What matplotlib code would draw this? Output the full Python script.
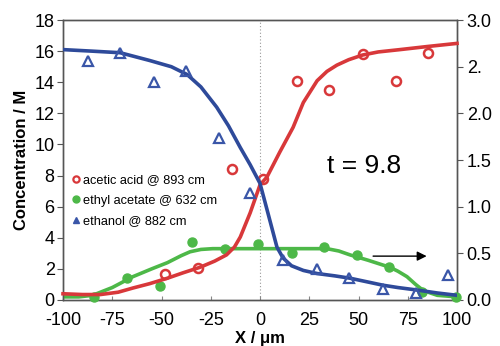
import matplotlib
matplotlib.use("Agg")
import matplotlib.pyplot as plt
from matplotlib.lines import Line2D

plt.rcParams['font.family'] = ['Liberation Sans', 'DejaVu Sans']

# ---- data (left axis units, M) ----
ethanol_x = [-87.5, -71, -54, -37.6, -21, -5, 11.7, 29, 45, 62.4, 79, 95.4]
ethanol_y = [15.4, 15.9, 14.0, 14.7, 10.4, 6.9, 2.6, 2.0, 1.4, 0.7, 0.45, 1.6]

acetic_x = [-48.2, -31.5, -14.2, 1.5, 19, 35, 52.3, 69, 85.3]
acetic_y = [1.7, 2.06, 8.4, 7.8, 14.1, 13.5, 15.8, 14.1, 15.9]

ethyl_x = [-84.3, -67.5, -50.8, -34.5, -17.8, -1, 16, 32.5, 49, 65.5, 82, 99.5]
ethyl_y = [0.2, 1.4, 0.9, 3.7, 3.3, 3.6, 3.0, 3.4, 2.9, 2.1, 0.5, 0.2]

# fitted curves
ethanol_fit_x = [-100, -85, -71, -56, -45, -37, -30, -22, -16, -10, -5, 0, 4, 8.6, 11.7, 16, 22, 29, 38, 45.7, 55, 62.4, 70, 79.7, 90, 100]
ethanol_fit_y = [16.1, 16.0, 15.9, 15.4, 15.0, 14.5, 13.7, 12.4, 11.2, 9.8, 8.7, 7.5, 5.6, 3.4, 2.7, 2.2, 1.9, 1.7, 1.55, 1.4, 1.15, 0.95, 0.8, 0.64, 0.45, 0.3]

acetic_fit_x = [-100, -90, -81, -72, -64.5, -56, -47, -39, -30.5, -23, -17, -13, -10, -5, 0, 3.5, 10, 16.8, 22, 29, 34, 39, 45, 52, 60, 71, 85, 100]
acetic_fit_y = [0.4, 0.35, 0.35, 0.5, 0.77, 1.05, 1.4, 1.75, 2.1, 2.5, 2.9, 3.4, 4.05, 5.6, 7.4, 7.9, 9.5, 11.1, 12.7, 14.1, 14.7, 15.1, 15.45, 15.75, 15.95, 16.1, 16.3, 16.5]

ethyl_fit_x = [-100, -92, -85, -75, -64.5, -55, -47, -40, -35.5, -30, -24, -15, -5, 10, 25, 34, 40, 45.7, 55, 66, 70, 74.6, 79, 83, 90, 100]
ethyl_fit_y = [0.2, 0.2, 0.3, 0.8, 1.5, 2.0, 2.4, 2.85, 3.1, 3.25, 3.3, 3.3, 3.3, 3.3, 3.3, 3.3, 3.15, 2.9, 2.55, 2.1, 1.85, 1.5, 1.0, 0.6, 0.3, 0.2]

x_ticks = [-100, -75, -50, -25, 0, 25, 50, 75, 100]
left_ticks = [0, 2, 4, 6, 8, 10, 12, 14, 16, 18]
right_ticks = [0.0, 0.5, 1.0, 1.5, 2.0, 2.5, 3.0]
right_labels = ["0.0", "0.5", "1.0", "1.5", "2.0", "2.", "3.0"]

RED = "#d8383a"
GREEN = "#4db848"
BLUE = "#2e4a9a"
BLUE_M = "#3a56a8"

fig = plt.figure(figsize=(5.0, 3.46), dpi=100)
ax = fig.add_axes([0.126, 0.133, 0.788, 0.809])
ax2 = ax.twinx()

ax.set_xlim(-100, 100)
ax.set_ylim(0, 18)
ax2.set_ylim(0, 3.0)

# zero line
ax.axvline(0, color="#999999", lw=0.8, ls=(0, (1, 2)), zorder=1)

def to_right(vals):
    return [v / 6.0 for v in vals]

# ethyl acetate on the right axis
ax2.plot(ethyl_fit_x, to_right(ethyl_fit_y), color=GREEN, lw=2.6, solid_capstyle='round', zorder=2)
ax2.plot(ethyl_x, to_right(ethyl_y), 'o', color=GREEN, ms=6.5, zorder=3, clip_on=False)

ax2.plot(acetic_fit_x, to_right(acetic_fit_y), color=RED, lw=2.6, zorder=4, clip_on=False)
ax2.plot(acetic_x, to_right(acetic_y), 'o', mfc='none', mec=RED, mew=1.8, ms=6.5, zorder=5)

ax2.plot(ethanol_fit_x, to_right(ethanol_fit_y), color=BLUE, lw=2.6, zorder=6)
ax2.plot(ethanol_x, to_right(ethanol_y), '^', mfc='none', mec=BLUE_M, mew=1.6, ms=7, zorder=7)

# arrow pointing to right axis
ax2.annotate("", xy=(86, 0.47), xytext=(56, 0.47),
             arrowprops=dict(arrowstyle="-|>", color="black", lw=1.0, mutation_scale=14))

ax.text(53, 8.15, "t = 9.8", fontsize=19, ha="center", va="baseline")

# ticks
ax.set_xticks(x_ticks)
ax.set_xticklabels([str(t) for t in x_ticks])
ax.set_yticks(left_ticks)
ax.set_yticklabels([str(t) for t in left_ticks])
ax2.set_yticks(right_ticks)
ax2.set_yticklabels(right_labels)

ax.tick_params(axis='x', direction='in', length=3, labelsize=13, pad=9, color="#888888")
ax.tick_params(axis='y', direction='out', length=4, labelsize=13, pad=2, color="#555555")
ax2.tick_params(axis='y', direction='out', length=4, labelsize=13, pad=3, color="#555555")

for a in (ax, ax2):
    for s in a.spines.values():
        s.set_color("#555555")
        s.set_linewidth(1.0)

ax.set_ylabel("Concentration / M", fontsize=12, fontweight="bold", labelpad=4)
ax.set_xlabel("X / μm", fontsize=12, fontweight="bold", labelpad=1)

handles = [
    Line2D([], [], ls='none', marker='o', mfc='none', mec=RED, mew=1.6, ms=4.5),
    Line2D([], [], ls='none', marker='o', color=GREEN, ms=5),
    Line2D([], [], ls='none', marker='^', color=BLUE_M, ms=5),
]
labels = ["acetic acid @ 893 cm", "ethyl acetate @ 632 cm", "ethanol @ 882 cm"]
leg = ax2.legend(handles, labels, loc="upper left", bbox_to_anchor=(0.0, 0.48),
                 frameon=False, fontsize=9.2, handlelength=0.6, handletextpad=0.3,
                 labelspacing=0.65, borderaxespad=0.3)
leg.set_zorder(10)

fig.savefig("out.png", dpi=100)
